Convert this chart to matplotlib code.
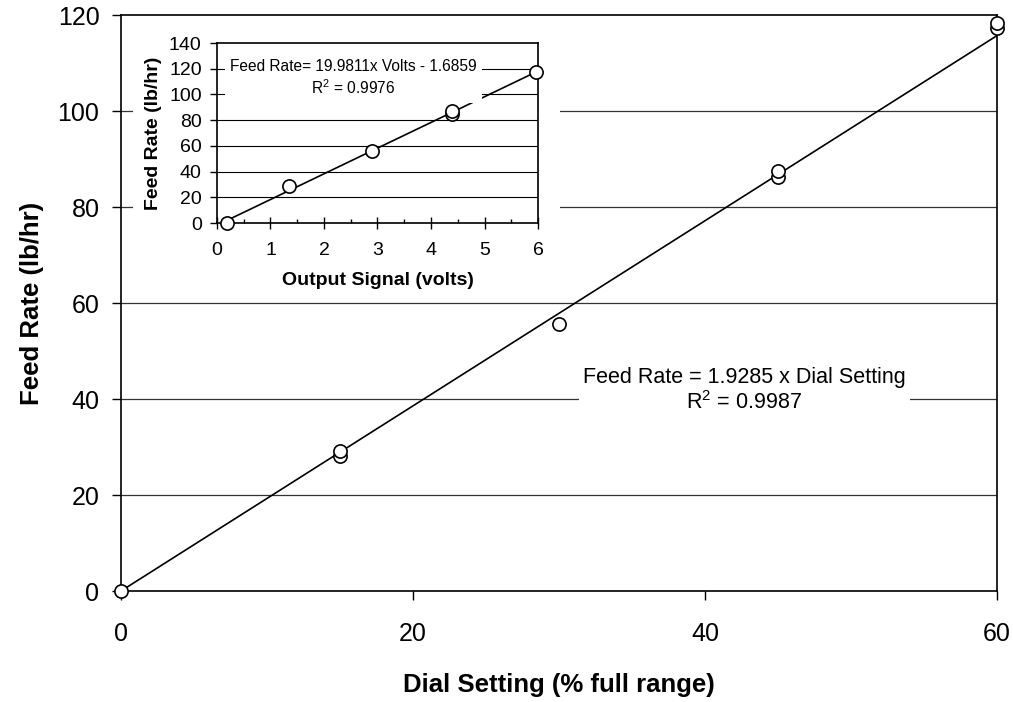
import numpy as np
import matplotlib.pyplot as plt
from matplotlib.patches import Rectangle

plt.rcParams['font.family'] = ['Liberation Sans', 'DejaVu Sans']
plt.rcParams['mathtext.fontset'] = 'custom'
plt.rcParams['mathtext.rm'] = 'Liberation Sans'
plt.rcParams['mathtext.it'] = 'Liberation Sans'

# main chart: dial setting vs feed rate
dial = [0, 15, 15, 30, 45, 45, 60, 60]
feed = [0, 28.2, 29.2, 55.7, 86.2, 87.5, 117.3, 118.3]
main_slope = 1.9285
main_r2 = 0.9987
main_xticks = [0, 20, 40, 60]
main_yticks = [0, 20, 40, 60, 80, 100, 120]

# inset: output signal vs feed rate
volts = [0.18, 1.35, 2.9, 4.4, 4.4, 5.96]
feed_v = [0.2, 28.8, 56, 84.8, 87.1, 117.7]
inset_slope = 19.9811
inset_icept = -1.6859
inset_r2 = 0.9976
inset_xticks = [0, 1, 2, 3, 4, 5, 6]
inset_yticks = [0, 20, 40, 60, 80, 100, 120, 140]

fig = plt.figure(figsize=(10.13, 7.02), dpi=100)
ax = fig.add_axes([0.1194, 0.1581, 0.8648, 0.8205])

# gridlines
for v in main_yticks[1:-1]:
    ax.axhline(v, color='#333333', lw=0.9, zorder=1)

xf = np.array([0, 60])
ax.plot(xf, main_slope * xf, color='black', lw=1.2, zorder=3)
ax.plot(dial, feed, 'o', ms=9.5, mfc='white', mec='black', mew=1.2, zorder=4,
        clip_on=False)

ax.set_xlim(0, 60)
ax.set_ylim(0, 120)
ax.set_xticks(main_xticks)
ax.set_yticks(main_yticks)
ax.tick_params(direction='out', length=6.5, width=1, labelsize=18)
ax.tick_params(axis='x', pad=16)
ax.tick_params(axis='y', pad=9)
for s in ax.spines.values():
    s.set_linewidth(1.2)
ax.set_xlabel('Dial Setting (% full range)', fontsize=18.5, fontweight='bold', labelpad=19)
ax.set_ylabel('Feed Rate (lb/hr)', fontsize=18.5, fontweight='bold', labelpad=10)

ax.text(42.7, 41.8, 'Feed Rate = 1.9285 x Dial Setting\nR$^2$ = 0.9987',
        ha='center', va='center', fontsize=15.5, linespacing=1.15, zorder=5,
        bbox=dict(facecolor='white', edgecolor='none', pad=3))

# white area behind the inset (covers main gridlines)
ax.add_patch(Rectangle((133 / 1013, 1 - 296 / 702), (560 - 133) / 1013, (296 - 18) / 702,
                       transform=fig.transFigure, facecolor='white', edgecolor='none',
                       zorder=2))

# inset chart
ins = fig.add_axes([0.2142, 0.6823, 0.3169, 0.2564])
for v in inset_yticks[1:-1]:
    ins.axhline(v, color='black', lw=0.8, zorder=1)
xv = np.array([0.2, 6.0])
ins.plot(xv, inset_slope * xv + inset_icept, color='black', lw=1.2, zorder=3)
ins.plot(volts, feed_v, 'o', ms=9.5, mfc='white', mec='black', mew=1.2, zorder=4,
         clip_on=False)
ins.set_xlim(0, 6)
ins.set_ylim(0, 140)
ins.set_xticks(inset_xticks)
ins.set_xticks(np.arange(0.5, 6, 1), minor=True)
ins.set_yticks(inset_yticks)
ins.tick_params(axis='x', which='major', direction='inout', length=8, width=1,
                labelsize=14, pad=10)
ins.tick_params(axis='x', which='minor', direction='in', length=3, width=1)
ins.tick_params(axis='y', direction='out', length=5, width=1, labelsize=14, pad=6)
for s in ins.spines.values():
    s.set_linewidth(1.2)
ins.set_xlabel('Output Signal (volts)', fontsize=14, fontweight='bold', labelpad=9)
ins.set_ylabel('Feed Rate (lb/hr)', fontsize=14, fontweight='bold', labelpad=5)
ins.text(2.55, 112.7, 'Feed Rate= 19.9811x Volts - 1.6859\nR$^2$ = 0.9976',
         ha='center', va='center', fontsize=11.2, linespacing=1.25, zorder=5,
         bbox=dict(facecolor='white', edgecolor='none', pad=4))

fig.savefig('out.png', dpi=100)
